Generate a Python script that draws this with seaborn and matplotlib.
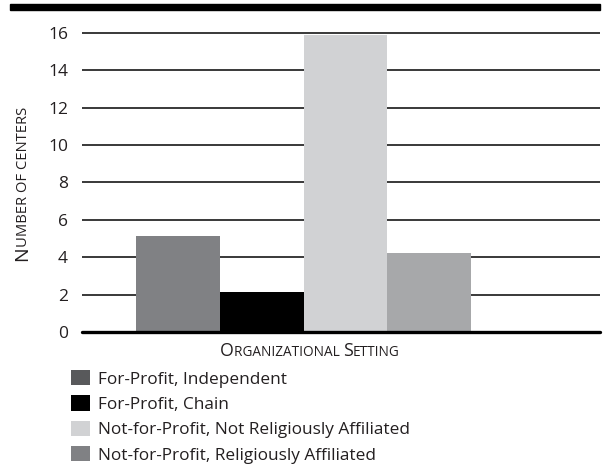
import matplotlib
matplotlib.use('Agg')
import matplotlib.pyplot as plt
import seaborn as sns
import pandas as pd
from matplotlib.patches import Patch, Rectangle

# ---- data ----
setting = ["Organizational Setting"] * 4
types = ["For-Profit, Independent", "For-Profit, Chain",
         "Not-for-Profit, Not Religiously Affiliated",
         "Not-for-Profit, Religiously Affiliated"]
values = [5.15, 2.15, 15.9, 4.2]
yticks = [0, 2, 4, 6, 8, 10, 12, 14, 16]
bar_colors = ["#808184", "#000000", "#d1d2d4", "#a7a8aa"]
legend_colors = ["#58595b", "#000000", "#d1d2d4", "#808184"]

W, H = 608, 468
TXT = "#231f20"

sns.set_theme(style="white")
plt.rcParams['font.family'] = ['Open Sans', 'DejaVu Sans']

fig = plt.figure(figsize=(W / 100, H / 100), dpi=100)
ax = fig.add_axes([82 / W, 1 - 332 / H, 518 / W, (332 - 30.9) / H])

df = pd.DataFrame({"setting": setting, "type": types, "value": values})
sns.barplot(data=df, x="setting", y="value", hue="type", hue_order=types,
            palette=bar_colors, saturation=1, width=0.8, legend=False,
            ax=ax, zorder=3, linewidth=0)

ax.set_ylim(0, 16.1)
ax.set_xlim(-0.529, 0.708)
ax.set_yticks(yticks)
ax.set_yticklabels([str(v) for v in yticks], fontsize=12.5, color=TXT)
ax.set_xticks([])
ax.tick_params(axis='y', length=0, pad=10)
ax.set_xlabel("")
ax.set_ylabel("")
for s in ax.spines.values():
    s.set_visible(False)
for v in yticks[1:]:
    ax.axhline(v, color="#2a2a2a", lw=1.3, zorder=1)
ax.axhline(0, color="#000000", lw=2.4, zorder=4, clip_on=False)

# top rule
fig.patches.append(Rectangle((10 / W, 1 - 9.5 / H), 590 / W, 5.5 / H,
                             transform=fig.transFigure, color="#000000"))

# legend
handles = [Patch(facecolor=c, edgecolor='none', label=l)
           for c, l in zip(legend_colors, types)]
fig.legend(handles=handles, loc="upper left",
           bbox_to_anchor=(71 / W, 1 - 370 / H), bbox_transform=fig.transFigure,
           frameon=False, fontsize=12.4, handlelength=1.1, handleheight=1.0,
           handletextpad=0.47, labelspacing=0.45, borderpad=0, borderaxespad=0,
           labelcolor=TXT)

# small caps labels
renderer = fig.canvas.get_renderer()


def small_caps(segments, cx, cy, rotation=0):
    texts, widths = [], []
    for s, size in segments:
        t = fig.text(0, 0, s, fontsize=size, color=TXT, ha='left',
                     va='baseline', rotation=0, rotation_mode='anchor',
                     transform=None)
        widths.append(t.get_window_extent(renderer).width)
        texts.append(t)
    pos = -sum(widths) / 2
    for t, w in zip(texts, widths):
        if rotation == 0:
            t.set_position((cx + pos, cy))
        else:
            t.set_rotation(90)
            t.set_position((cx, cy + pos))
        pos += w


# pixel coords: origin bottom-left
small_caps([("O", 12.8), ("RGANIZATIONAL ", 9.8), ("S", 12.8), ("ETTING", 9.8)],
           310, H - 356)
small_caps([("N", 14), ("UMBER OF CENTERS", 10.6)], 27, H - 184, rotation=90)

fig.savefig("out.png", dpi=100)
